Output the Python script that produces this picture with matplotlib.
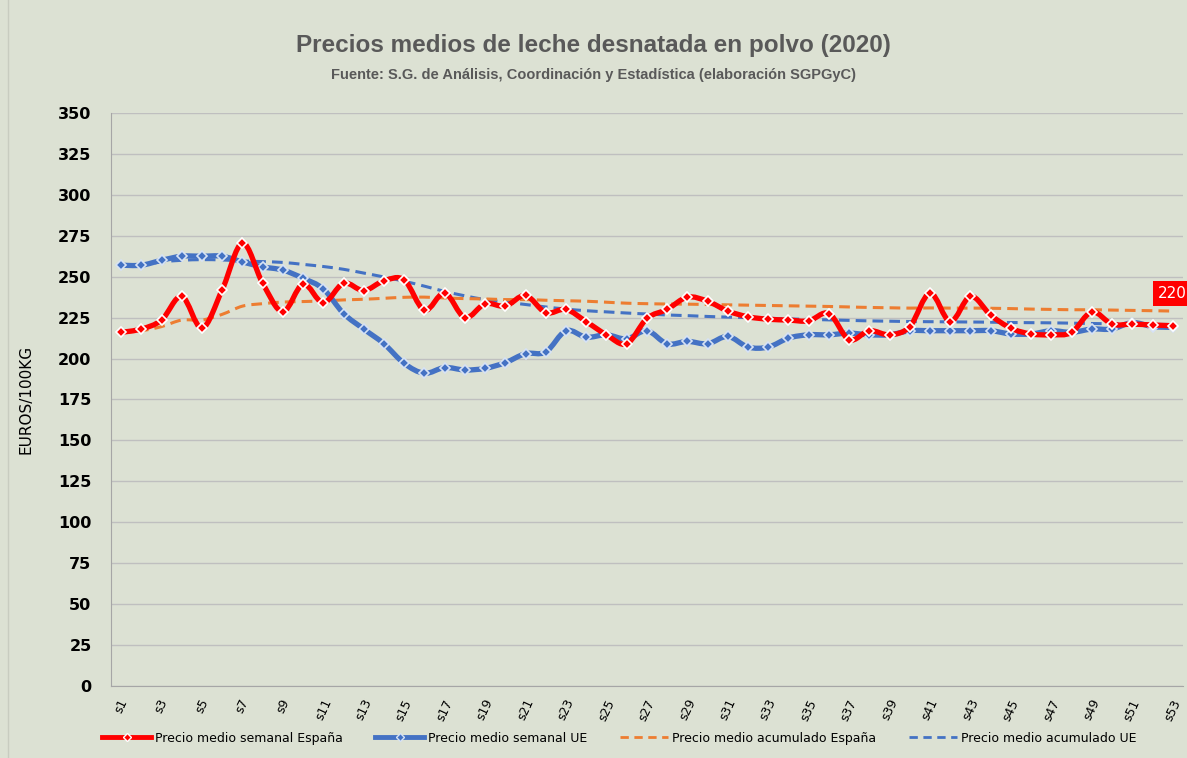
import matplotlib

matplotlib.use("Agg")
import matplotlib.pyplot as plt
from matplotlib.lines import Line2D
from matplotlib.path import Path
from matplotlib.patches import PathPatch
import numpy as np

weeks = [f"s{i}" for i in range(1, 54)]

esp_semanal = [
    216, 218, 223.5, 238, 218.5, 242, 270.5, 246, 228.5, 245.5,
    234, 246, 241.5, 247.5, 248, 229.5, 240, 225, 233.5, 232,
    238.5, 228, 230, 222.5, 214.5, 209, 224.5, 230, 237.5, 235,
    229, 225.5, 224, 223.5, 223, 227.5, 211.5, 217, 214.5, 219.5,
    240, 222.5, 238, 226.5, 218.5, 215, 214.5, 216, 228.5, 221,
    221, 220.5, 220,
]
ue_semanal = [
    257, 257, 260, 262.5, 262.5, 262.5, 259, 256, 254, 249,
    242.5, 227.5, 218, 209, 197, 191, 194.5, 193, 194, 197.5,
    203, 204, 217, 213, 214.5, 212, 217, 209, 210.5, 209,
    213.5, 207, 207, 212.5, 214.5, 214.5, 215.5, 214.5, 214.5, 217,
    217, 217, 217, 217, 215, 215, 217, 216, 218, 218,
    222, 219.5, 219,
]
esp_acumulado = [
    216, 217, 219.5, 223.5, 223.5, 227, 232, 233.5, 234.5, 234.8,
    235.2, 235.8, 236.2, 236.8, 237.4, 237.5, 237, 236.6, 236.4, 236,
    236, 235.6, 235.3, 235, 234.4, 233.8, 233.5, 233.3, 233.2, 233,
    232.8, 232.6, 232.4, 232.2, 232, 231.8, 231.5, 231.2, 231, 230.8,
    230.9, 230.8, 230.8, 230.7, 230.5, 230.2, 230, 229.8, 229.8, 229.6,
    229.4, 229.2, 229,
]
ue_acumulado = [
    257, 257.2, 259, 260, 260.4, 260.2, 259.6, 259.2, 258.7, 257.5,
    256.2, 254.5, 252.2, 249.8, 247.2, 244.2, 241, 238.3, 236, 234.5,
    233, 231.5, 230.2, 229.2, 228.5, 227.8, 227.2, 226.6, 226.2, 225.7,
    225.3, 225, 224.6, 224.2, 223.9, 223.6, 223.3, 223, 222.8, 222.6,
    222.5, 222.4, 222.3, 222.2, 222, 221.9, 221.8, 221.6, 221.4, 221.2,
    221.1, 220.9, 220.8,
]
ultimo_valor = "220"

BG = "#dce1d3"
RED = "#ff0000"
BLUE = "#4472c4"
ORANGE = "#ed7d31"


def smooth_path(xs, ys):
    # Bezier segments in the style of Excel's "smoothed line"
    pts = np.column_stack([np.asarray(xs, float), np.asarray(ys, float)])
    verts = [pts[0]]
    codes = [Path.MOVETO]
    n = len(pts)
    for i in range(n - 1):
        p0 = pts[max(i - 1, 0)]
        p1 = pts[i]
        p2 = pts[i + 1]
        p3 = pts[min(i + 2, n - 1)]
        verts += [p1 + (p2 - p0) / 6.0, p2 - (p3 - p1) / 6.0, p2]
        codes += [Path.CURVE4] * 3
    return Path(verts, codes)


fig = plt.figure(figsize=(11.87, 7.58), dpi=100, facecolor=BG)
ax = fig.add_axes([0.0935, 0.095, 0.903, 0.756], facecolor=BG)

x = np.arange(1, len(weeks) + 1)

series = [
    (ue_acumulado, BLUE, 2.2, (0, (3.5, 2)), 3),
    (esp_acumulado, ORANGE, 2.2, (0, (3.5, 2)), 3),
    (ue_semanal, BLUE, 3.8, "solid", 4),
    (esp_semanal, RED, 3.8, "solid", 5),
]
for vals, color, lw, ls, z in series:
    ax.add_patch(PathPatch(
        smooth_path(x, vals),
        facecolor="none",
        edgecolor=color,
        linewidth=lw,
        linestyle=ls,
        capstyle="butt",
        zorder=z,
    ))

ax.plot(x, ue_semanal, linestyle="none", marker="D", markersize=5,
        markerfacecolor=BLUE, markeredgecolor="#d6e2f5", markeredgewidth=1.2, zorder=4)
ax.plot(x, esp_semanal, linestyle="none", marker="D", markersize=5,
        markerfacecolor=RED, markeredgecolor="white", markeredgewidth=1.2, zorder=6)

ax.annotate(
    ultimo_valor,
    xy=(x[-1], esp_semanal[-1]),
    xytext=(-11, 20),
    textcoords="offset points",
    color="white",
    fontsize=11,
    family="DejaVu Sans",
    bbox=dict(boxstyle="square,pad=0.3", facecolor=RED, edgecolor="none"),
    annotation_clip=False,
    zorder=7,
)

ax.set_xlim(0.5, len(weeks) + 0.5)
ax.set_ylim(0, 350)
ax.set_yticks(np.arange(0, 351, 25))
ax.set_xticks(x[::2])
ax.set_xticklabels(weeks[::2], rotation=65, ha="center", fontsize=9)
for lab in ax.get_yticklabels():
    lab.set_fontweight("bold")
    lab.set_fontsize(11.5)
ax.tick_params(axis="both", length=0, pad=8)
ax.tick_params(axis="y", pad=14)
ax.grid(axis="y", color="#bfbfbf", linewidth=1)
ax.set_axisbelow(True)
for side in ["top", "right"]:
    ax.spines[side].set_visible(False)
ax.spines["left"].set_color("#a6a6a6")
ax.spines["bottom"].set_color("#a6a6a6")
ax.set_ylabel("EUROS/100KG", fontsize=11, labelpad=18)

fig.text(0.5, 0.94, "Precios medios de leche desnatada en polvo (2020)",
         ha="center", va="center", fontsize=17.5, fontweight="bold",
         color="#595959", family="Liberation Sans")
fig.text(0.5, 0.901,
         "Fuente: S.G. de Análisis, Coordinación y Estadística (elaboración SGPGyC)",
         ha="center", va="center", fontsize=10.5, fontweight="bold",
         color="#595959", family="Liberation Sans")

handles = [
    Line2D([], [], color=RED, linewidth=3.5, marker="D", markersize=4,
           markerfacecolor=RED, markeredgecolor="white"),
    Line2D([], [], color=BLUE, linewidth=3.5, marker="D", markersize=4,
           markerfacecolor=BLUE, markeredgecolor="#d6e2f5"),
    Line2D([], [], color=ORANGE, linewidth=2, linestyle=(0, (3, 2))),
    Line2D([], [], color=BLUE, linewidth=2, linestyle=(0, (3, 2))),
]
labels = [
    "Precio medio semanal España",
    "Precio medio semanal UE",
    "Precio medio acumulado España",
    "Precio medio acumulado UE",
]
fig.legend(handles, labels, loc="center", bbox_to_anchor=(0.522, 0.026), ncol=4,
           frameon=False, fontsize=9, handlelength=3.9, handletextpad=0.3,
           columnspacing=2.6)

fig.add_artist(Line2D([0.007, 0.007], [0, 1], color="#c8ccc0", linewidth=1))

fig.savefig("out.png", dpi=100, facecolor=BG)
